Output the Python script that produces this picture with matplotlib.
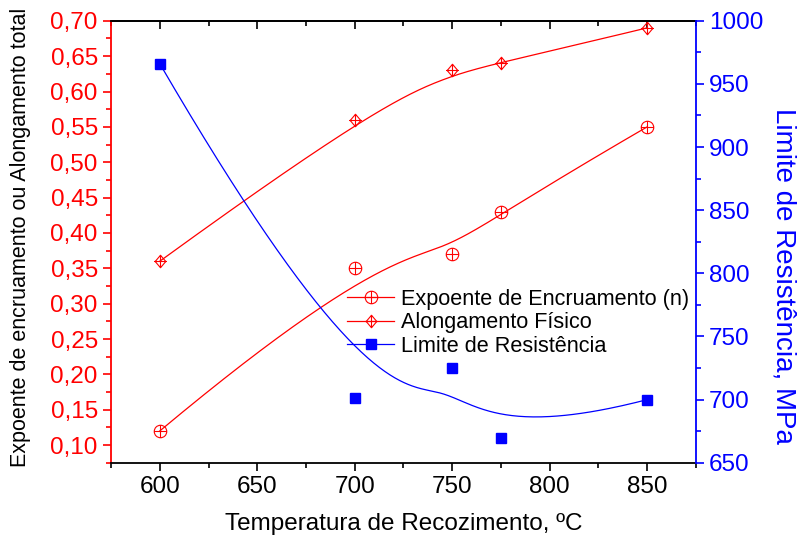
import numpy as np
import matplotlib
matplotlib.use('Agg')
import matplotlib.pyplot as plt
from matplotlib.path import Path
from matplotlib.ticker import MultipleLocator, FuncFormatter

plt.rcParams['font.family'] = ['Liberation Sans', 'DejaVu Sans']

# dados
temperatura = [600, 700, 750, 775, 850]
expoente_n = [0.12, 0.35, 0.37, 0.43, 0.55]
alongamento = [0.36, 0.56, 0.63, 0.64, 0.69]
limite_res = [966, 701, 725, 670, 700]


def bspline(xs, ys, k=3, npts=300):
    # B-spline cubica fixada nas pontas (pontos = pontos de controle)
    P = np.column_stack([xs, ys]).astype(float)
    n = len(P)
    inner = np.linspace(0, 1, n - k + 1)[1:-1]
    t = np.concatenate([np.zeros(k + 1), inner, np.ones(k + 1)])
    u = np.linspace(0, 1, npts)
    u[-1] = 1 - 1e-9

    def N(i, p, uu):
        if p == 0:
            return np.where((t[i] <= uu) & (uu < t[i + 1]), 1.0, 0.0)
        a = 0.0
        b = 0.0
        if t[i + p] != t[i]:
            a = (uu - t[i]) / (t[i + p] - t[i]) * N(i, p - 1, uu)
        if t[i + p + 1] != t[i + 1]:
            b = (t[i + p + 1] - uu) / (t[i + p + 1] - t[i + 1]) * N(i + 1, p - 1, uu)
        return a + b

    B = np.array([N(i, k, u) for i in range(n)])
    C = B.T @ P
    return C[:, 0], C[:, 1]


# marcadores
circ = Path.unit_circle()
cruz = Path([[-1, 0], [1, 0], [0, -1], [0, 1]],
            [Path.MOVETO, Path.LINETO, Path.MOVETO, Path.LINETO])
circ_mais = Path.make_compound_path(circ, cruz)
losango = Path([[0, 1], [0.85, 0], [0, -1], [-0.85, 0], [0, 1]],
               [Path.MOVETO, Path.LINETO, Path.LINETO, Path.LINETO, Path.CLOSEPOLY])
los_mais = Path.make_compound_path(losango, cruz)

RED = '#FF0000'
BLUE = '#0000FF'

fig = plt.figure(figsize=(7.99, 5.47), dpi=100)
ax = fig.add_axes([0.139, 0.154, 0.732, 0.808])
ax2 = ax.twinx()

# curvas
for ys, mk, lab, ms in [(expoente_n, circ_mais, 'Expoente de Encruamento (n)', 9),
                        (alongamento, los_mais, 'Alongamento Físico', 9)]:
    cx, cy = bspline(temperatura, ys)
    ax.plot(cx, cy, color=RED, lw=0.9)
    ax.plot(temperatura, ys, linestyle='none', marker=mk, ms=ms,
            mfc='none', mec=RED, mew=0.8)
    ax.plot([], [], color=RED, lw=0.9, marker=mk, ms=ms, mfc='none',
            mec=RED, mew=0.8, label=lab)

cx, cy = bspline(temperatura, limite_res)
ax2.plot(cx, cy, color=BLUE, lw=0.9)
ax2.plot(temperatura, limite_res, linestyle='none', marker='s', ms=6.5,
         color=BLUE)
ax2.plot([], [], color=BLUE, lw=0.9, marker='s', ms=6.5,
         label='Limite de Resistência')

ax.set_xlim(575, 875)
ax.set_ylim(0.075, 0.70)
ax2.set_ylim(650, 1000)

ax.xaxis.set_major_locator(MultipleLocator(50))
ax.xaxis.set_minor_locator(MultipleLocator(25))
ax.yaxis.set_major_locator(MultipleLocator(0.05))
ax.yaxis.set_minor_locator(MultipleLocator(0.025))
ax2.yaxis.set_major_locator(MultipleLocator(50))
ax2.yaxis.set_minor_locator(MultipleLocator(25))
ax.yaxis.set_major_formatter(FuncFormatter(lambda v, p: ('%.2f' % v).replace('.', ',')))

# eixos
ax.spines['left'].set_color(RED)
ax.spines['right'].set_visible(False)
for s in ['top', 'bottom']:
    ax.spines[s].set_color('k')
for s in ['left', 'top', 'bottom']:
    ax2.spines[s].set_visible(False)
ax2.spines['right'].set_color(BLUE)
for a in (ax, ax2):
    for s in a.spines.values():
        s.set_linewidth(1.3)

TS = 17.5
ax.tick_params(axis='x', which='both', direction='out', top=False, labelsize=TS,
               width=1.2, colors='k')
ax.tick_params(axis='x', which='major', length=6)
ax.tick_params(axis='x', which='minor', length=3.5)
ax.tick_params(axis='y', which='both', direction='out', colors=RED, labelsize=TS,
               width=1.2)
ax.tick_params(axis='y', which='major', length=6)
ax.tick_params(axis='y', which='minor', length=3.5)
ax2.tick_params(axis='y', which='both', direction='out', colors=BLUE, labelsize=TS,
                width=1.2)
ax2.tick_params(axis='y', which='major', length=6)
ax2.tick_params(axis='y', which='minor', length=3.5)

# ticks internos no topo
sec = ax.secondary_xaxis('top')
sec.xaxis.set_major_locator(MultipleLocator(50))
sec.xaxis.set_minor_locator(MultipleLocator(25))
sec.tick_params(which='both', direction='in', labeltop=False, width=1.2)
sec.tick_params(which='major', length=6)
sec.tick_params(which='minor', length=3.5)
sec.spines['top'].set_linewidth(1.3)

ax.set_xlabel('Temperatura de Recozimento, ºC', fontsize=17.5, labelpad=11)
ax.set_ylabel('Expoente de encruamento ou Alongamento total', fontsize=15.5)
ax.yaxis.set_label_coords(-0.137, 0.51)
ax2.set_ylabel('Limite de Resistência, MPa', fontsize=20, color=BLUE,
               rotation=270, labelpad=24)
ax2.yaxis.set_label_coords(1.172, 0.423)

h1, l1 = ax.get_legend_handles_labels()
h2, l2 = ax2.get_legend_handles_labels()
ax2.legend(h1 + h2, l1 + l2, loc='upper left', bbox_to_anchor=(0.434, 0.472),
           bbox_transform=fig.transFigure, frameon=False, fontsize=15.6,
           handlelength=2.2, handletextpad=0.3, labelspacing=0.12,
           borderpad=0, borderaxespad=0)

fig.savefig('out.png', dpi=100)
